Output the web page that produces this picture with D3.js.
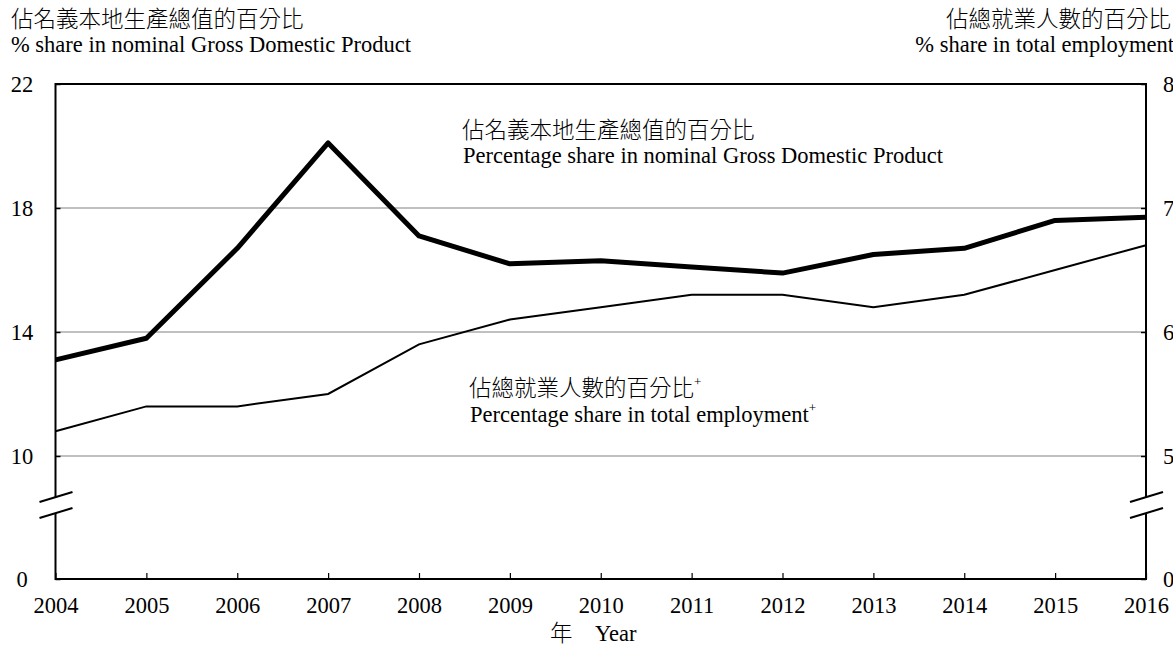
<!DOCTYPE html>
<html>
<head>
<meta charset="utf-8">
<script src="https://cdn.jsdelivr.net/npm/d3@7"></script>
<style>
  html, body { margin: 0; padding: 0; background: #fff; }
  svg { display: block; }
  text { font-family: "Liberation Serif", "Noto Sans CJK TC", serif; fill: #000; }
  .cjk { font-weight: 300; }
</style>
</head>
<body>
<svg id="chart" width="1173" height="647"></svg>
<script>
const years = [2004, 2005, 2006, 2007, 2008, 2009, 2010, 2011, 2012, 2013, 2014, 2015, 2016];
const gdpShare = [13.1, 13.8, 16.7, 20.1, 17.1, 16.2, 16.3, 16.1, 15.9, 16.5, 16.7, 17.6, 17.7];
const employmentShare = [5.2, 5.4, 5.4, 5.5, 5.9, 6.1, 6.2, 6.3, 6.3, 6.2, 6.3, 6.5, 6.7];
const leftTicks = [0, 10, 14, 18, 22];
const rightTicks = [0, 5, 6, 7, 8];
const leftTitle = ["佔名義本地生產總值的百分比", "% share in nominal Gross Domestic Product"];
const rightTitle = ["佔總就業人數的百分比", "% share in total employment"];
const gdpLabel = ["佔名義本地生產總值的百分比", "Percentage share in nominal Gross Domestic Product"];
const empLabel = ["佔總就業人數的百分比", "Percentage share in total employment"];
const xTitle = "年\u3000Year";

const FS = "22.5px";
const svg = d3.select("#chart");
const L = 55.5, R = 1146, T = 84, B = 579;

const x = d3.scaleLinear().domain([2004, 2016]).range([L, R]);
const yL = d3.scaleLinear().domain([0, 10, 22]).range([B, 456, T]);
const yR = d3.scaleLinear().domain([0, 5, 8]).range([B, 456, T]);

// gridlines
svg.append("g").selectAll("line").data(leftTicks.filter(d => d > 0 && d < 22)).join("line")
  .attr("x1", L).attr("x2", R)
  .attr("y1", d => yL(d)).attr("y2", d => yL(d))
  .attr("stroke", "#c0c0c0").attr("stroke-width", 2);

// left axis
const leftAxis = d3.axisLeft(yL).tickValues(leftTicks).tickSize(-5).tickPadding(0).tickFormat(d3.format("d"));
const gl = svg.append("g").attr("transform", `translate(${L},0)`).call(leftAxis);
gl.select(".domain").remove();
gl.selectAll(".tick line").attr("stroke", "#000").attr("stroke-width", 1.5);
gl.selectAll(".tick text").attr("x", 22 - L).attr("text-anchor", "middle")
  .style("font-size", FS).attr("dy", "0.33em");

// right axis
const rightAxis = d3.axisRight(yR).tickValues(rightTicks).tickSize(-5).tickFormat(d3.format("d"));
const gr = svg.append("g").attr("transform", `translate(${R},0)`).call(rightAxis);
gr.select(".domain").remove();
gr.selectAll(".tick line").attr("stroke", "#000").attr("stroke-width", 1.5);
gr.selectAll(".tick text").attr("x", 1163 - R).attr("text-anchor", "start")
  .style("font-size", FS).attr("dy", "0.33em");

// bottom axis
const bottomAxis = d3.axisBottom(x).tickValues(years).tickSize(-6).tickPadding(0).tickFormat(d3.format("d"));
const gb = svg.append("g").attr("transform", `translate(0,${B})`).call(bottomAxis);
gb.select(".domain").remove();
gb.selectAll(".tick line").attr("stroke", "#000").attr("stroke-width", 1.2);
gb.selectAll(".tick text").attr("y", 34).attr("dy", 0).style("font-size", FS);

// frame
svg.append("rect").attr("x", L).attr("y", T).attr("width", R - L).attr("height", B - T)
  .attr("fill", "none").attr("stroke", "#000").attr("stroke-width", 2);

// axis break marks
const breakY1 = yL(10) + 41, breakY2 = yL(10) + 57;
[L, R].forEach(ax => {
  svg.append("rect").attr("x", ax - 3).attr("y", breakY1).attr("width", 6).attr("height", breakY2 - breakY1)
    .attr("fill", "#fff");
  [breakY1, breakY2].forEach(by => {
    svg.append("line")
      .attr("x1", ax - 16).attr("y1", by + 5)
      .attr("x2", ax + 17).attr("y2", by - 5)
      .attr("stroke", "#000").attr("stroke-width", 2);
  });
});

// lines
const lineGdp = d3.line().x((d, i) => x(years[i])).y(d => yL(d));
const lineEmp = d3.line().x((d, i) => x(years[i])).y(d => yR(d));
svg.append("path").datum(employmentShare).attr("d", lineEmp)
  .attr("fill", "none").attr("stroke", "#000").attr("stroke-width", 2);
svg.append("path").datum(gdpShare).attr("d", lineGdp)
  .attr("fill", "none").attr("stroke", "#000").attr("stroke-width", 5).attr("stroke-linejoin", "round");

// titles
svg.append("text").attr("class", "cjk").attr("x", 11).attr("y", 27).style("font-size", FS).text(leftTitle[0]);
svg.append("text").attr("x", 11).attr("y", 52).style("font-size", FS).text(leftTitle[1]);
svg.append("text").attr("class", "cjk").attr("x", 1171).attr("y", 27).attr("text-anchor", "end").style("font-size", FS).text(rightTitle[0]);
svg.append("text").attr("x", 1174).attr("y", 52).attr("text-anchor", "end").style("font-size", FS).text(rightTitle[1]);

// series annotations
svg.append("text").attr("class", "cjk").attr("x", 462).attr("y", 138).style("font-size", FS).text(gdpLabel[0]);
svg.append("text").attr("x", 463).attr("y", 163).style("font-size", FS).text(gdpLabel[1]);
const e1 = svg.append("text").attr("class", "cjk").attr("x", 469).attr("y", 396).style("font-size", FS).text(empLabel[0]);
e1.append("tspan").attr("dy", -10).style("font-size", "13px").text("+");
const e2 = svg.append("text").attr("x", 470).attr("y", 422).style("font-size", FS).text(empLabel[1]);
e2.append("tspan").attr("dy", -10).style("font-size", "13px").text("+");

// x title
svg.append("text").attr("class", "cjk").attr("x", 550).attr("y", 641).attr("text-anchor", "start").style("font-size", FS).text(xTitle);
</script>
</body>
</html>
